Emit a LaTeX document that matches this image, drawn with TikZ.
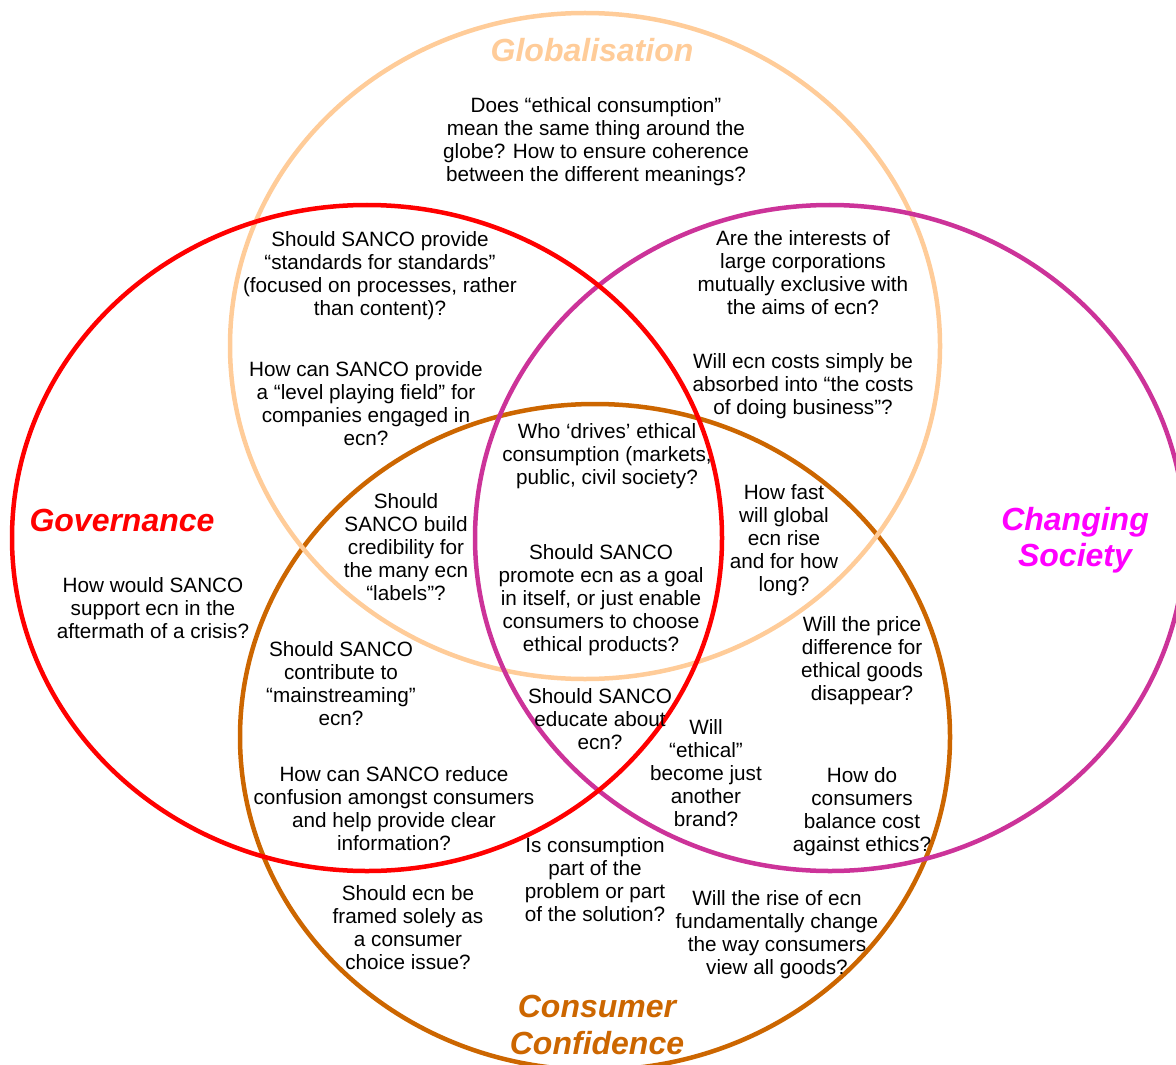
\documentclass[tikz,border=0pt]{standalone}
\usepackage{fontspec}
\setmainfont{Liberation Sans}
\definecolor{globalcol}{RGB}{255,204,153}
\definecolor{govcol}{RGB}{255,0,0}
\definecolor{societyring}{RGB}{204,51,153}
\definecolor{societytext}{RGB}{255,0,255}
\definecolor{confcol}{RGB}{204,102,0}

\begin{document}
\begin{tikzpicture}[x=0.5pt, y=-0.5pt,
		ring/.style={line width=2.25pt},
		question/.style={align=center, inner sep=0pt, font=\fontsize{10.35}{11.5}\selectfont},
		heading/.style={align=center, inner sep=0pt, font=\fontsize{16}{18.25}\selectfont\bfseries\itshape}]
		\useasboundingbox (0,0) rectangle (1176,1064);
		
		\begin{scope}
			\clip (0,0) rectangle (1176,1064);
			\foreach \cx/\cy/\col in {595/737/confcol, 585/346/globalcol, 830/538/societyring, 367/538/govcol}
			{
				\draw[ring, draw=\col] (\cx,\cy) ellipse [x radius=355, y radius=333];
			}
		\end{scope}
		
		\node[heading, text=globalcol] (globtitle) at (592,50) {Globalisation};
		\node[heading, text=govcol] (govtitle) at (122,520) {Governance};
		\node[heading, text=societytext] (soctitle) at (1075,540) {Changing\\Society};
		\node[heading, text=confcol] (conftitle) at (597,1025) {Consumer\\Confidence};
		
		\node[question] (meaning) at (596,142) {Does “ethical consumption”\\mean the same thing around the\\globe? How to ensure coherence\\between the different meanings?};
		\node[question] (standards) at (380,276) {Should SANCO provide\\“standards for standards”\\(focused on processes, rather\\than content)?};
		\node[question] (level) at (366,404) {How can SANCO provide\\a “level playing field” for\\companies engaged in\\ecn?};
		\node[question] (interests) at (803,273) {Are the interests of\\large corporations\\mutually exclusive with\\the aims of ecn?};
		\node[question] (costs) at (803,386) {Will ecn costs simply be\\absorbed into “the costs\\of doing business”?};
		\node[question] (crisis) at (153,608) {How would SANCO\\support ecn in the\\aftermath of a crisis?};
		\node[question] (drives) at (607,456) {Who ‘drives’ ethical\\consumption (markets,\\public, civil society?};
		\node[question] (labels) at (406,547) {Should\\SANCO build\\credibility for\\the many ecn\\“labels”?};
		\node[question] (promote) at (601,600) {Should SANCO\\promote ecn as a goal\\in itself, or just enable\\consumers to choose\\ethical products?};
		\node[question] (howfast) at (784,540) {How fast\\will global\\ecn rise\\and for how\\long?};
		\node[question] (mainstream) at (341,684) {Should SANCO\\contribute to\\“mainstreaming”\\ecn?};
		\node[question] (price) at (862,661) {Will the price\\difference for\\ethical goods\\disappear?};
		\node[question] (educate) at (600,719) {Should SANCO\\educate about\\ecn?};
		\node[question] (brand) at (706,773) {Will\\“ethical”\\become just\\another\\brand?};
		\node[question] (confusion) at (394,809) {How can SANCO reduce\\confusion amongst consumers\\and help provide clear\\information?};
		\node[question] (balance) at (862,812) {How do\\consumers\\balance cost\\against ethics?};
		\node[question] (problem) at (595,880) {Is consumption\\part of the\\problem or part\\of the solution?};
		\node[question] (choice) at (408,928) {Should ecn be\\framed solely as\\a consumer\\choice issue?};
		\node[question] (rise) at (777,935) {Will the rise of ecn\\fundamentally change\\the way consumers\\view all goods?};
	\end{tikzpicture}
\end{document}
